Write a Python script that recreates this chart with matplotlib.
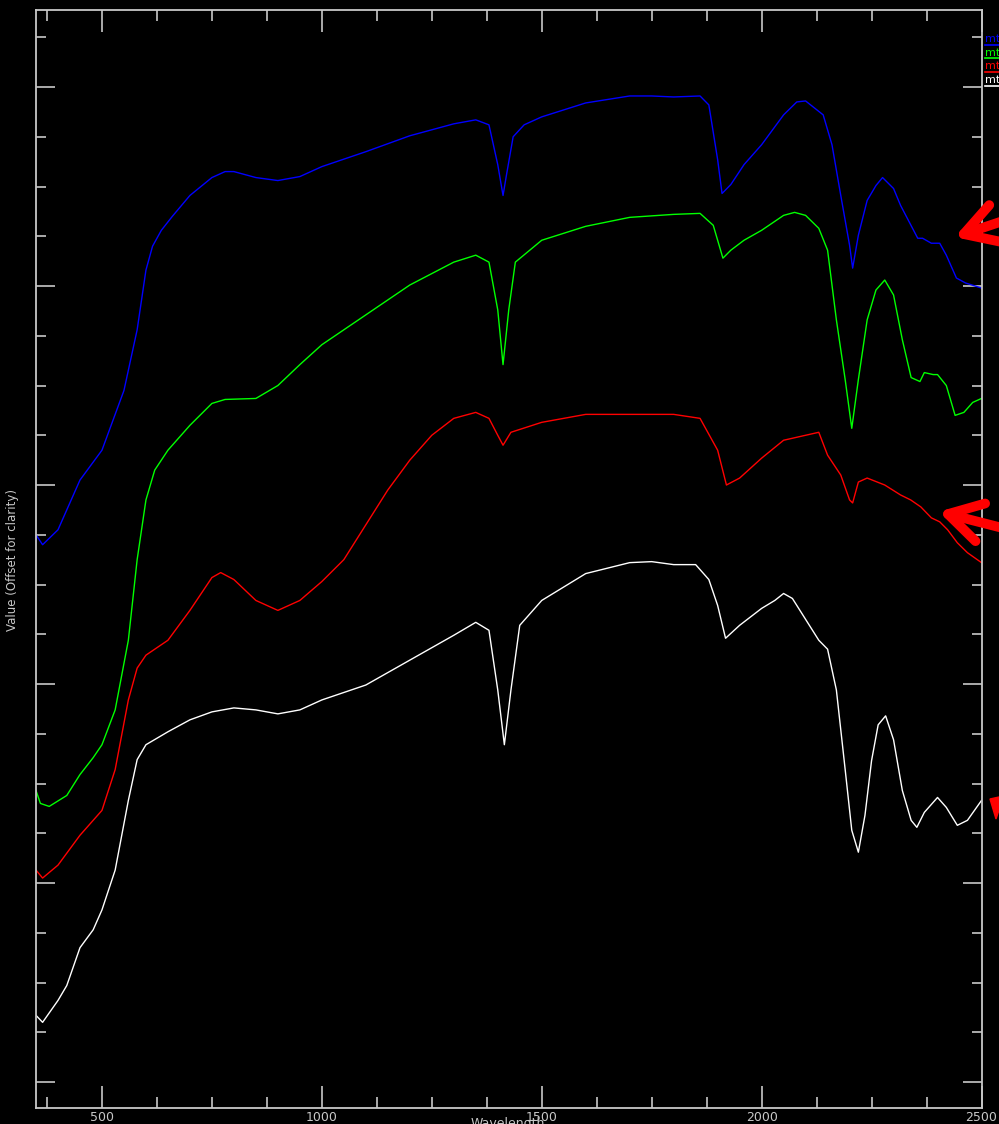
import numpy as np
import matplotlib
matplotlib.use('Agg')
import matplotlib.pyplot as plt
from matplotlib.ticker import MultipleLocator, NullFormatter
from matplotlib.lines import Line2D
from matplotlib.patches import Polygon

# spectra, offset for clarity
blue_x = [350, 365, 400, 450, 480, 500, 550, 580, 600, 615, 635, 660, 700, 750, 780, 800, 850, 900, 950, 1000,
          1100, 1200, 1300, 1350, 1380, 1400, 1412, 1420, 1435, 1460, 1500, 1600, 1700, 1750, 1800, 1860,
          1880, 1900, 1910, 1930, 1960, 2000, 2050, 2080, 2100, 2120, 2140, 2160, 2180, 2200, 2207, 2220,
          2240, 2260, 2275, 2300, 2316, 2355, 2366, 2386, 2405, 2420, 2443, 2464, 2500]
blue_y = [.550, .540, .555, .605, .623, .635, .695, .756, .816, .840, .856, .870, .891, .909, .915, .915, .909,
          .906, .910, .920, .935, .951, .963, .967, .962, .922, .891, .912, .950, .962, .970, .984, .991, .991,
          .990, .991, .982, .927, .893, .902, .922, .942, .972, .985, .986, .979, .972, .942, .891, .841, .818,
          .851, .886, .901, .909, .898, .881, .848, .848, .843, .843, .831, .808, .803, .798]

green_x = [350, 360, 380, 420, 450, 480, 500, 530, 560, 580, 600, 620, 650, 700, 750, 780, 850, 900, 950, 1000,
           1100, 1200, 1300, 1350, 1380, 1400, 1412, 1425, 1440, 1500, 1600, 1700, 1800, 1860, 1890, 1912, 1930,
           1960, 2000, 2050, 2075, 2100, 2130, 2150, 2170, 2190, 2205, 2220, 2240, 2260, 2280, 2300, 2320, 2340,
           2360, 2370, 2390, 2400, 2420, 2440, 2460, 2480, 2500]
green_y = [.293, .280, .277, .288, .309, .326, .339, .374, .444, .525, .585, .615, .635, .660, .682, .686, .687,
           .700, .721, .741, .771, .801, .824, .831, .824, .776, .721, .776, .824, .846, .860, .869, .872, .873,
           .861, .828, .836, .846, .856, .871, .874, .871, .858, .836, .766, .706, .657, .706, .766, .796, .806,
           .791, .746, .708, .704, .713, .711, .711, .700, .670, .673, .683, .687]

red_x = [350, 365, 400, 450, 500, 530, 560, 580, 600, 650, 700, 750, 770, 800, 850, 900, 950, 1000, 1050, 1100,
         1150, 1200, 1250, 1300, 1350, 1380, 1400, 1412, 1430, 1500, 1600, 1700, 1800, 1860, 1900, 1920, 1950,
         2000, 2050, 2100, 2130, 2150, 2180, 2200, 2207, 2220, 2240, 2280, 2316, 2339, 2362, 2386, 2405, 2423,
         2445, 2468, 2500]
red_y = [.213, .205, .218, .248, .273, .314, .384, .416, .429, .444, .474, .507, .512, .505, .484, .474, .484,
         .503, .525, .560, .595, .625, .650, .667, .673, .667, .650, .640, .653, .663, .671, .671, .671, .667,
         .635, .600, .607, .627, .645, .650, .653, .630, .610, .585, .582, .603, .607, .600, .590, .585, .578,
         .567, .563, .555, .542, .532, .522]

white_x = [350, 365, 400, 420, 450, 480, 500, 530, 560, 580, 600, 650, 700, 750, 800, 850, 900, 950, 1000, 1100,
           1200, 1300, 1350, 1380, 1400, 1415, 1430, 1450, 1500, 1600, 1700, 1750, 1800, 1850, 1880, 1900, 1918,
           1950, 2000, 2030, 2050, 2070, 2100, 2130, 2150, 2170, 2190, 2205, 2220, 2235, 2250, 2265, 2282, 2300,
           2320, 2340, 2353, 2370, 2400, 2420, 2445, 2468, 2500]
white_y = [.067, .060, .082, .097, .135, .153, .173, .213, .283, .324, .339, .352, .364, .372, .376, .374, .370,
           .374, .384, .399, .424, .449, .462, .454, .394, .339, .394, .459, .484, .511, .522, .523, .520, .520,
           .505, .479, .446, .459, .476, .484, .491, .486, .465, .444, .435, .394, .314, .253, .231, .268, .323,
           .359, .368, .344, .293, .263, .256, .271, .286, .276, .258, .263, .283]

series = [(blue_x, blue_y, '#0000ff', 'mt1'),
          (green_x, green_y, '#00ff00', 'mt2'),
          (red_x, red_y, '#ff0000', 'mt3'),
          (white_x, white_y, '#ffffff', 'mt4')]

fg = '#c8c8c8'
W, H = 999, 1124
fig = plt.figure(figsize=(W / 100, H / 100), dpi=100, facecolor='black')
ax = fig.add_axes([36 / W, 16 / H, 945.5 / W, 1098 / H], facecolor='black')

for xs, ys, clr, lab in series:
    ax.plot(xs, ys, color=clr, lw=1.0)

ax.set_xlim(350, 2500)
ax.set_ylim(-0.0261, 1.0774)
ax.xaxis.set_major_locator(MultipleLocator(500))
ax.xaxis.set_minor_locator(MultipleLocator(125))
ax.yaxis.set_major_locator(MultipleLocator(0.2))
ax.yaxis.set_minor_locator(MultipleLocator(0.05))
ax.yaxis.set_major_formatter(NullFormatter())

ax.tick_params(which='both', direction='in', top=True, right=True, color=fg, width=1.2)
ax.tick_params(axis='x', which='major', length=15.5, pad=2, labelsize=9, labelcolor=fg)
ax.tick_params(axis='x', which='minor', length=8)
ax.tick_params(axis='y', which='major', length=13.5)
ax.tick_params(axis='y', which='minor', length=7)
for sp in ax.spines.values():
    sp.set_color(fg)
    sp.set_linewidth(1.3)

# axis titles (x title sits partly below the figure edge, as in the original)
fig.text(508 / W, 1 - 1117 / H, 'Wavelength', color=fg, fontsize=9, ha='center', va='top')
fig.text(12.5 / W, 1 - 560 / H, 'Value (Offset for clarity)', rotation=90, color=fg,
         fontsize=8.5, ha='center', va='center')

# legend stuck at the top right, cut by the edge
for i, (xs, ys, clr, lab) in enumerate(series):
    ty = 39 + i * 13.7
    fig.text(985 / W, 1 - ty / H, lab, color=clr, fontsize=8, ha='left', va='center')
    fig.add_artist(Line2D([985 / W, 1.0], [1 - (ty + 5.5) / H] * 2, color=clr, lw=1.2,
                          transform=fig.transFigure))

# red arrows drawn over the picture (figure pixels, origin bottom left)
arrow = dict(arrowstyle='->, head_length=1.2, head_width=0.7', color='#ff0000', lw=7,
             mutation_scale=20, capstyle='round', joinstyle='round')
ax.annotate('', xy=(952, H - 238), xytext=(1030, H - 212), xycoords='figure pixels',
            textcoords='figure pixels', arrowprops=arrow, annotation_clip=False)
ax.annotate('', xy=(936, H - 511), xytext=(1030, H - 535), xycoords='figure pixels',
            textcoords='figure pixels', arrowprops=arrow, annotation_clip=False)
head = [(990 / W, 1 - 799 / H), (1.0, 1 - 797 / H), (1.0, 1 - 810 / H), (996 / W, 1 - 819 / H)]
fig.add_artist(Polygon(head, closed=True, color='#ff0000', transform=fig.transFigure))

fig.savefig('out.png', dpi=100, facecolor='black')
